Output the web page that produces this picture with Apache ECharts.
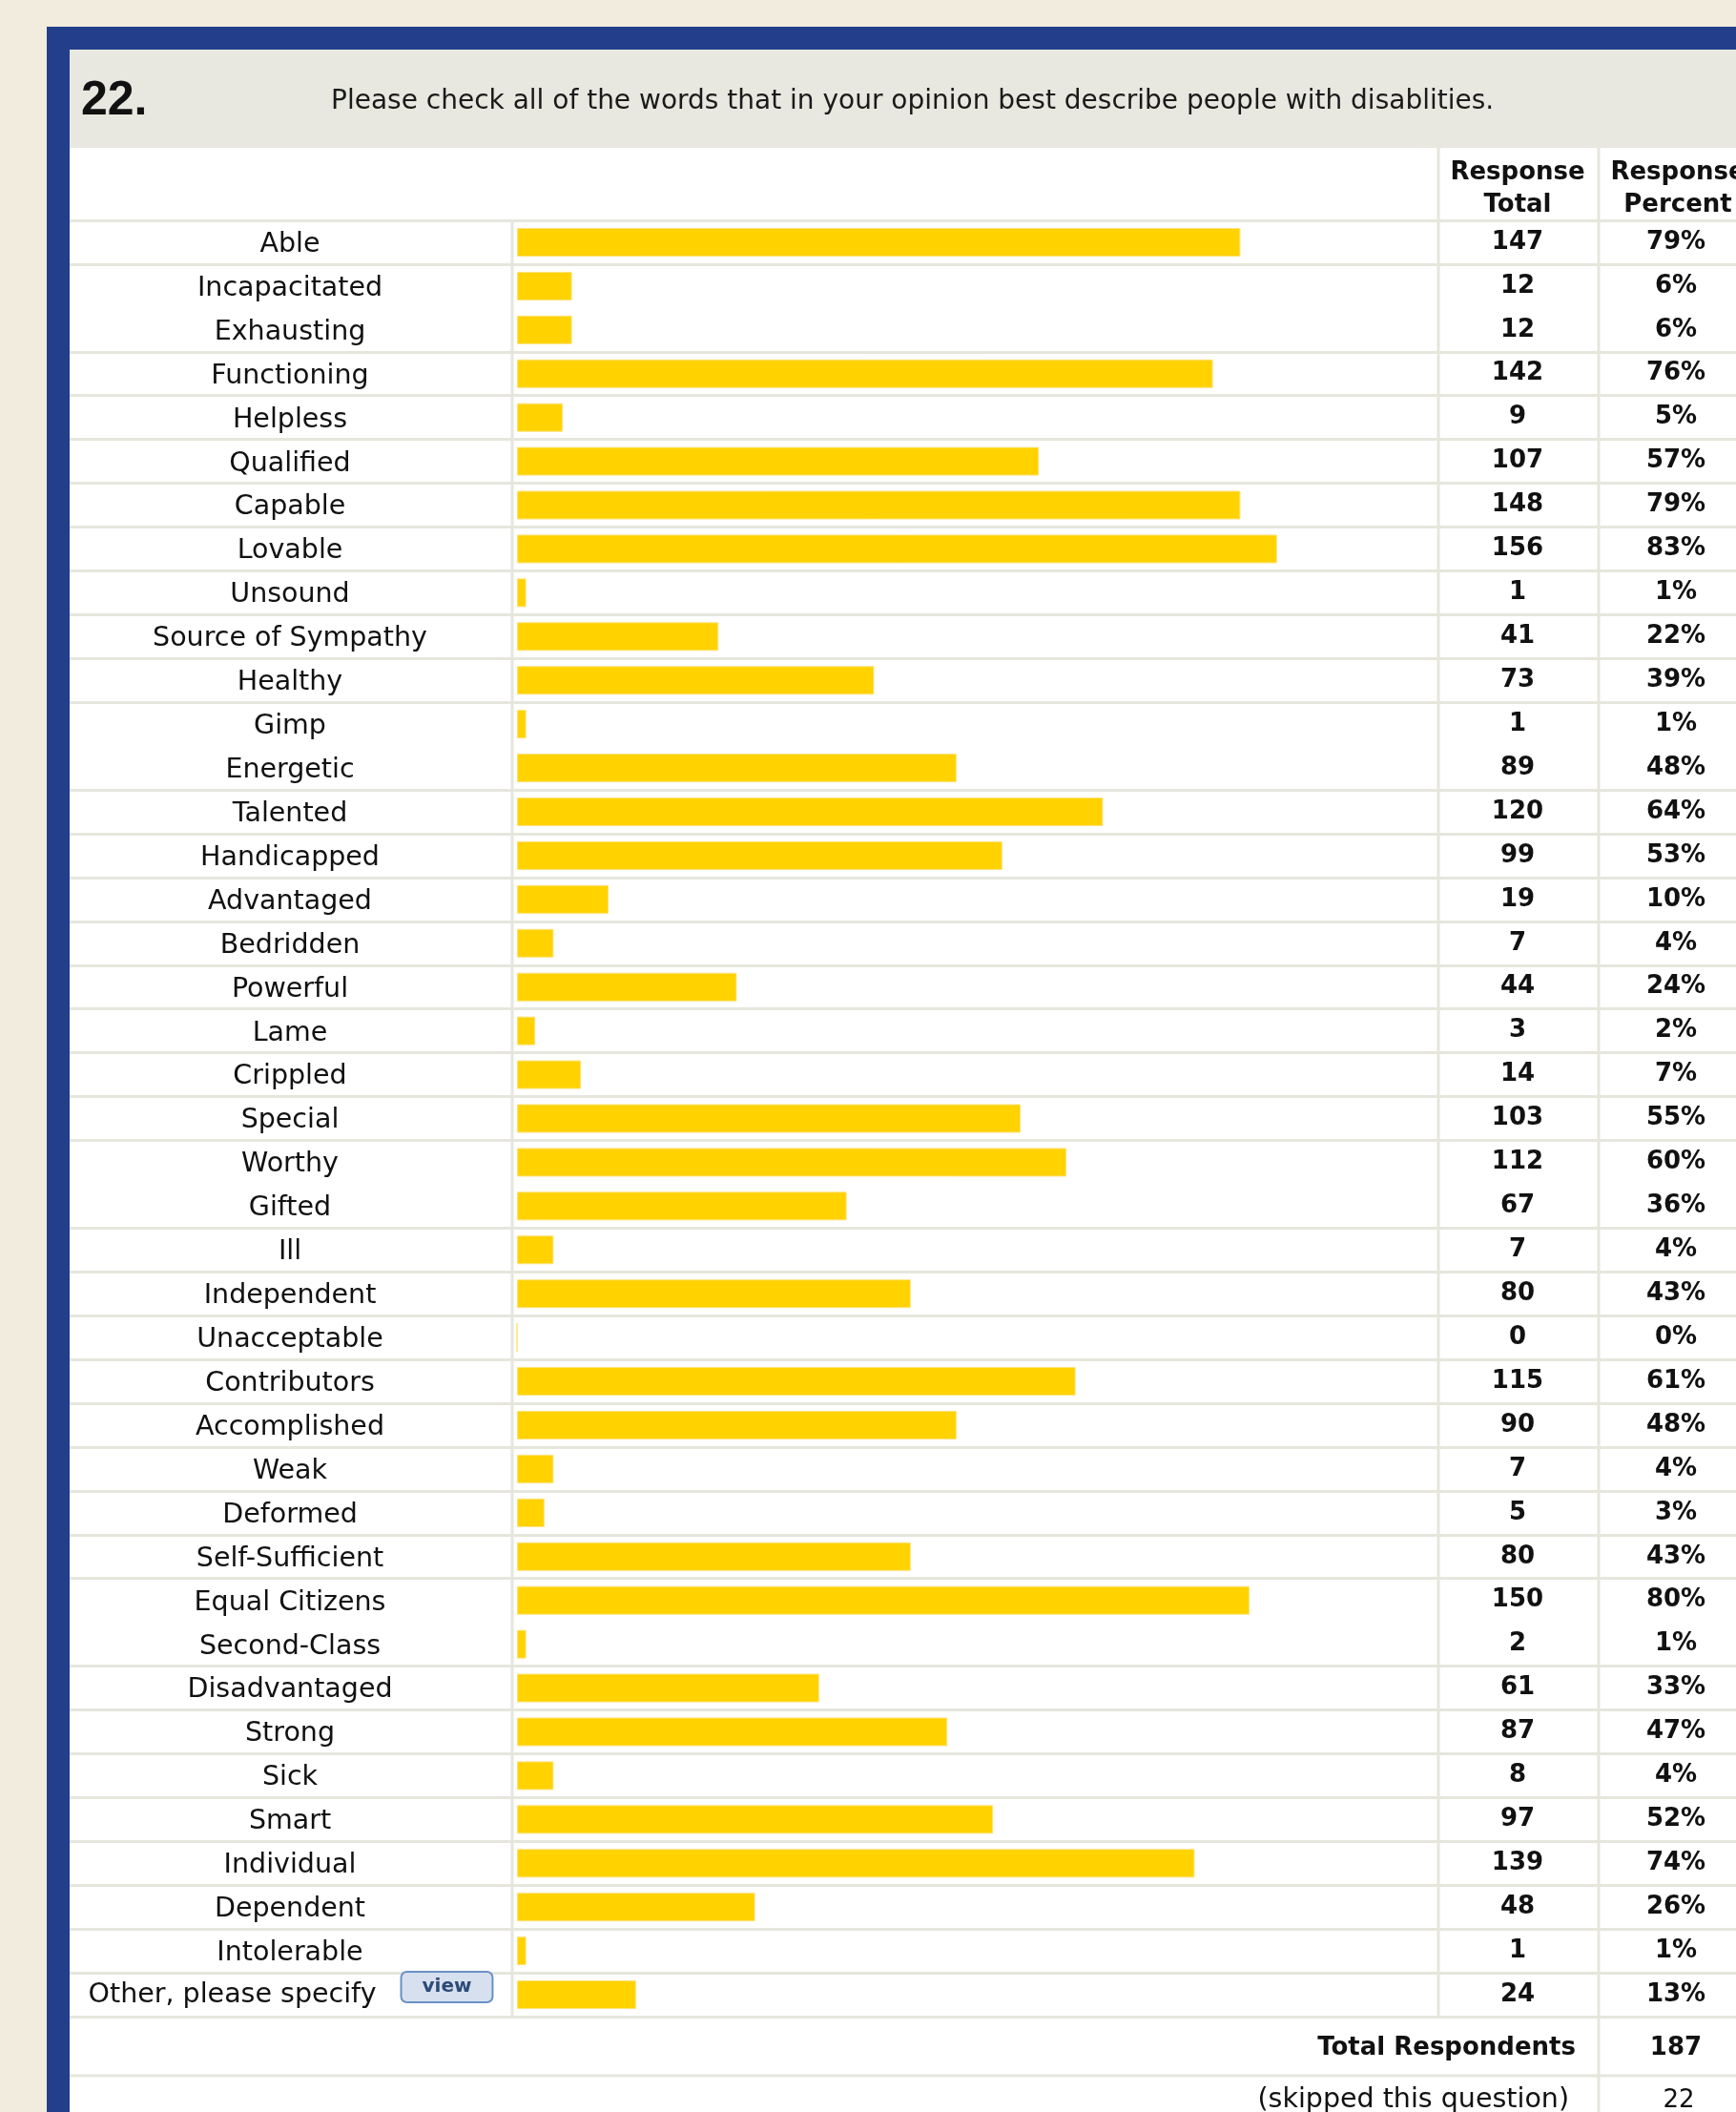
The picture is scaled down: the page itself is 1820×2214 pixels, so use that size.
<!DOCTYPE html>
<html>
<head>
<meta charset="utf-8">
<script src="https://cdn.jsdelivr.net/npm/echarts@6/dist/echarts.min.js"></script>
<style>
html, body { margin: 0; padding: 0; background: #f2ecde; }
#chart { width: 1820px; height: 2214px; }
</style>
</head>
<body>
<div id="chart"></div>
<script>
// survey question 22 - answers, counts and percents
var words = [
	"Able", "Incapacitated", "Exhausting", "Functioning", "Helpless",
	"Qualified", "Capable", "Lovable", "Unsound", "Source of Sympathy",
	"Healthy", "Gimp", "Energetic", "Talented", "Handicapped",
	"Advantaged", "Bedridden", "Powerful", "Lame", "Crippled",
	"Special", "Worthy", "Gifted", "Ill", "Independent",
	"Unacceptable", "Contributors", "Accomplished", "Weak", "Deformed",
	"Self-Sufficient", "Equal Citizens", "Second-Class", "Disadvantaged", "Strong",
	"Sick", "Smart", "Individual", "Dependent", "Intolerable",
	"Other, please specify"
];
var totals = [
	147, 12, 12, 142, 9,
	107, 148, 156, 1, 41,
	73, 1, 89, 120, 99,
	19, 7, 44, 3, 14,
	103, 112, 67, 7, 80,
	0, 115, 90, 7, 5,
	80, 150, 2, 61, 87,
	8, 97, 139, 48, 1,
	24
];
var percents = [
	79, 6, 6, 76, 5,
	57, 79, 83, 1, 22,
	39, 1, 48, 64, 53,
	10, 4, 24, 2, 7,
	55, 60, 36, 4, 43,
	0, 61, 48, 4, 3,
	43, 80, 1, 33, 47,
	4, 52, 74, 26, 1,
	13
];
// rows that share a cell with the row above (no separator line)
var joinedRows = [2, 12, 22, 32];
var totalRespondents = 187;
var skippedQuestion = 22;

var lineColor = "#e6e6dd";
var rowFont = "DejaVu Sans";
var lastRow = words.length - 1;

// the "other" row is taller in the page, so its label sits a bit higher
var wordItems = words.map(function (w, i) {
	if (i === lastRow) {
		return {
			value: w,
			textStyle: { align: "center", verticalAlign: "middle", padding: [0, 0, 16, 0] }
		};
	}
	return w;
});

var chart = echarts.init(document.getElementById("chart"));

function txt(x, y, text, font, size, weight, align, color) {
	return {
		type: "text",
		x: x,
		y: y,
		z: 10,
		style: {
			text: text,
			fontFamily: font,
			fontSize: size,
			fontWeight: weight,
			fill: color || "#111",
			align: align,
			verticalAlign: "middle"
		}
	};
}
function vline(x, y1, y2) {
	return {
		type: "line",
		z: 5,
		shape: { x1: x, y1: y1, x2: x, y2: y2 },
		style: { stroke: lineColor, lineWidth: 3 }
	};
}

var option = {
	backgroundColor: "#f2ecde",
	animation: false,
	grid: [
		{ left: 73, right: 0, top: 231, bottom: 100 },
		{ left: 542, width: 960, top: 231, bottom: 100 }
	],
	xAxis: [
		{ type: "value", gridIndex: 0, show: false },
		{ type: "value", gridIndex: 1, show: false, min: 0, max: 100 }
	],
	yAxis: [
		{
			type: "category",
			gridIndex: 0,
			data: wordItems,
			inverse: true,
			axisLine: { show: false },
			axisTick: { show: false },
			splitLine: {
				show: true,
				interval: function (index) {
					return joinedRows.indexOf(index) < 0;
				},
				lineStyle: { color: lineColor, width: 3 }
			},
			axisLabel: {
				inside: true,
				margin: 231,
				align: "center",
				fontFamily: rowFont,
				fontSize: 28.5,
				color: "#111",
				padding: [5, 0, 0, 0],
				formatter: function (value, index) {
					if (index === lastRow) {
						return "{o|" + value + "}{g|}{b|view}";
					}
					return value;
				},
				rich: {
					o: { fontFamily: rowFont, fontSize: 28.5, color: "#111", padding: [18, 0, 0, 0] },
					g: { width: 27 },
					b: {
						fontFamily: rowFont,
						fontSize: 20,
						fontWeight: "bold",
						color: "#2d4a78",
						backgroundColor: "#d6e0ef",
						borderColor: "#6a90c4",
						borderWidth: 2,
						borderRadius: 5,
						padding: [5, 21, 5, 21]
					}
				}
			}
		},
		{
			type: "category",
			gridIndex: 0,
			data: words,
			inverse: true,
			position: "right",
			axisLine: { show: false },
			axisTick: { show: false },
			axisLabel: {
				inside: true,
				margin: 229,
				align: "center",
				fontFamily: rowFont,
				fontSize: 26,
				fontWeight: "bold",
				color: "#111",
				padding: [6, 0, 0, 0],
				formatter: function (value, index) {
					return String(totals[index]);
				}
			}
		},
		{
			type: "category",
			gridIndex: 0,
			data: words,
			inverse: true,
			position: "right",
			axisLine: { show: false },
			axisTick: { show: false },
			axisLabel: {
				inside: true,
				margin: 63,
				align: "center",
				fontFamily: rowFont,
				fontSize: 26,
				fontWeight: "bold",
				color: "#111",
				padding: [6, 0, 0, 0],
				formatter: function (value, index) {
					return percents[index] + "%";
				}
			}
		},
		{
			type: "category",
			gridIndex: 1,
			data: words,
			inverse: true,
			show: false
		}
	],
	series: [
		{
			type: "bar",
			xAxisIndex: 1,
			yAxisIndex: 3,
			data: percents,
			barWidth: 30,
			silent: true,
			itemStyle: { color: "#ffd200", borderColor: "#ffe27a", borderWidth: 1 }
		}
	],
	graphic: [
		// blue frame + panel
		{ type: "rect", z: -3, shape: { x: 49, y: 28, width: 1800, height: 2214 }, style: { fill: "#233f8b" } },
		{ type: "rect", z: -2, shape: { x: 73, y: 52, width: 1780, height: 2200 }, style: { fill: "#ffffff" } },
		{ type: "rect", z: -1, shape: { x: 73, y: 52, width: 1780, height: 103 }, style: { fill: "#e8e8e0" } },
		txt(85, 106, "22.", "Liberation Sans", 50, "bold", "left", "#111"),
		txt(347, 107, "Please check all of the words that in your opinion best describe people with disablities.", rowFont, 28, "normal", "left", "#1a1a1a"),
		txt(1591, 181, "Response", rowFont, 26, "bold", "center"),
		txt(1591, 215, "Total", rowFont, 26, "bold", "center"),
		txt(1759, 181, "Response", rowFont, 26, "bold", "center"),
		txt(1759, 215, "Percent", rowFont, 26, "bold", "center"),
		vline(537, 231, 2114),
		vline(1508, 155, 2114),
		vline(1676, 155, 2214),
		{
			type: "line",
			z: 5,
			shape: { x1: 73, y1: 2176, x2: 1820, y2: 2176 },
			style: { stroke: lineColor, lineWidth: 3 }
		},
		txt(1652, 2147, "Total Respondents", rowFont, 26, "bold", "right"),
		txt(1757, 2147, String(totalRespondents), rowFont, 26, "bold", "center"),
		txt(1645, 2202, "(skipped this question)", rowFont, 28.5, "normal", "right"),
		txt(1760, 2202, String(skippedQuestion), rowFont, 26, "normal", "center")
	]
};
chart.setOption(option);
</script>
</body>
</html>
